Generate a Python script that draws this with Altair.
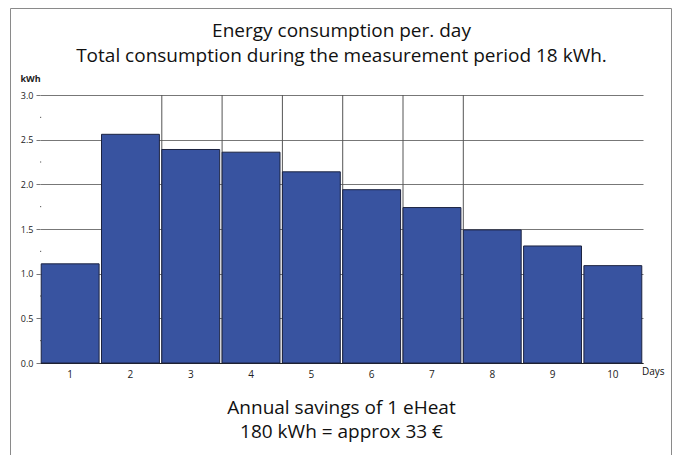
import altair as alt
import pandas as pd

days = ["1", "2", "3", "4", "5", "6", "7", "8", "9", "10"]
kwh = [1.11, 2.56, 2.39, 2.36, 2.14, 1.94, 1.74, 1.49, 1.31, 1.09]
divider_days = ["3", "4", "5", "6", "7", "8"]
major_ticks = [0.0, 0.5, 1.0, 1.5, 2.0, 2.5, 3.0]
minor_ticks = [0.25, 0.75, 1.25, 1.75, 2.25, 2.75]
title_lines = ["Energy consumption per. day",
               "Total consumption during the measurement period 18 kWh."]
footer_lines = ["Annual savings of 1 eHeat", "180 kWh = approx 33 \u20ac"]

FONT = "Open Sans"
W, H = 603, 268

df = pd.DataFrame({"day": days, "kwh": kwh})
div_df = pd.DataFrame({"day": divider_days})
minor_df = pd.DataFrame({"v": minor_ticks})

xscale = alt.Scale(domain=days, paddingInner=0.04, paddingOuter=0.02)
yscale = alt.Scale(domain=[0, 3], nice=False)
x_axis = alt.Axis(title=None, labelAngle=0, ticks=False, domainColor="#222222",
                  labelFontSize=10, labelPadding=6, labelColor="#222", grid=False)

dummy = alt.Data(values=[{}])

border = alt.Chart(dummy).mark_rect(filled=False, stroke="#8a8a8a", strokeWidth=1).encode(
    x=alt.value(-29.5), x2=alt.value(631.5), y=alt.value(-86.5), y2=alt.value(420)
)

dividers = alt.Chart(div_df).mark_rule(color="#555555", strokeWidth=1).encode(
    x=alt.X("day:O", scale=xscale, bandPosition=0, axis=x_axis)
)

bars = alt.Chart(df).mark_bar(color="#3853a0", stroke="#1c2340", strokeWidth=1).encode(
    x=alt.X("day:O", scale=xscale, sort=days, axis=x_axis),
    y=alt.Y("kwh:Q", scale=yscale,
            axis=alt.Axis(values=major_ticks, format=".1f", domain=False, tickSize=4,
                          tickColor="#777777", grid=True, gridColor="#777777",
                          labelFontSize=9, labelColor="#222", labelPadding=3,
                          title="kWh", titleAngle=0, titleX=-20, titleY=-12,
                          titleAlign="left", titleBaseline="bottom",
                          titleFontSize=9, titleFontWeight="bold", titleColor="#222")),
)

minor = alt.Chart(minor_df).mark_rule(color="#555555", strokeWidth=1).encode(
    y=alt.Y("v:Q", scale=yscale), x=alt.value(0), x2=alt.value(1.2)
)

def txt(s, x, y, size, align="center", baseline="middle"):
    return alt.Chart(dummy).mark_text(text=s, font=FONT, fontSize=size, color="#111111",
                                      align=align, baseline=baseline).encode(
        x=alt.value(x), y=alt.value(y))

texts = [
    txt(title_lines[0], W / 2, -64, 19),
    txt(title_lines[1], W / 2, -39, 19),
    txt(footer_lines[0], W / 2, 313, 19),
    txt(footer_lines[1], W / 2, 337, 19),
    txt("Days", 602, 277, 10, align="left"),
]

chart = alt.layer(border, dividers, bars, minor, *texts).properties(
    width=W, height=H,
    padding={"left": 32, "top": 87, "right": 29, "bottom": 92},
    autosize=alt.AutoSizeParams(type="none"),
).configure_view(stroke=None).configure_axis(labelFont=FONT, titleFont=FONT)

chart.save("out.html", embed_options={"renderer": "svg", "actions": False})
